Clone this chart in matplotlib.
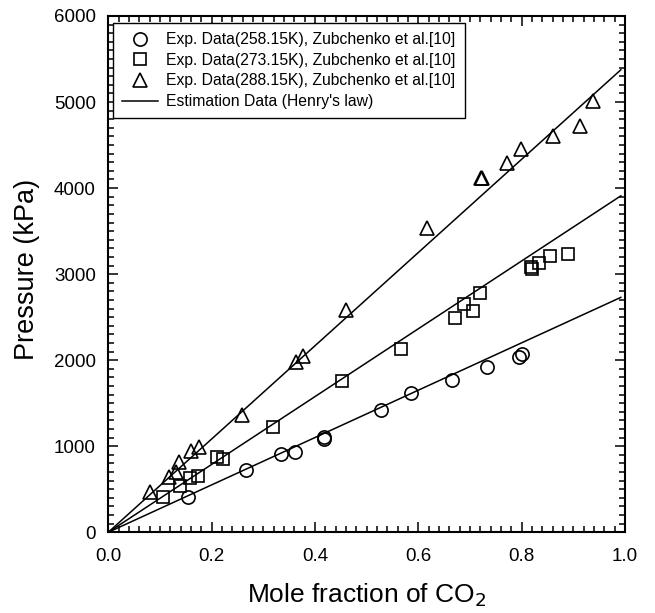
import matplotlib
matplotlib.use("Agg")
import matplotlib.pyplot as plt
from matplotlib.ticker import MultipleLocator
import numpy as np

plt.rcParams['font.family'] = ['Liberation Sans', 'DejaVu Sans']

# Experimental data, 258.15 K (circles)
x_258 = [0.154, 0.266, 0.335, 0.361, 0.418, 0.418, 0.528, 0.586, 0.666, 0.732, 0.795, 0.801]
p_258 = [414, 724, 906, 937, 1111, 1082, 1421, 1623, 1770, 1925, 2041, 2072]

# Experimental data, 273.15 K (squares)
x_273 = [0.105, 0.139, 0.158, 0.173, 0.210, 0.222, 0.319, 0.453, 0.566, 0.671, 0.688,
         0.705, 0.720, 0.818, 0.820, 0.834, 0.854, 0.890]
p_273 = [407, 542, 627, 658, 872, 848, 1227, 1758, 2130, 2494, 2653,
         2575, 2785, 3087, 3060, 3126, 3214, 3234]

# Experimental data, 288.15 K (triangles)
x_288 = [0.081, 0.118, 0.132, 0.137, 0.161, 0.176, 0.258, 0.364, 0.377, 0.460, 0.616,
         0.722, 0.724, 0.771, 0.798, 0.860, 0.912, 0.939]
p_288 = [465, 646, 704, 813, 948, 995, 1363, 1983, 2052, 2583, 3540,
         4114, 4121, 4288, 4451, 4609, 4725, 5016]

# Estimation lines (Henry's law)
x_est = [0.0, 0.992]
p_est_258 = [0, 2730]
p_est_273 = [0, 3910]
p_est_288 = [0, 5375]

labels = ["Exp. Data(258.15K), Zubchenko et al.[10]",
          "Exp. Data(273.15K), Zubchenko et al.[10]",
          "Exp. Data(288.15K), Zubchenko et al.[10]",
          "Estimation Data (Henry's law)"]

fig = plt.figure(figsize=(6.55, 6.13), dpi=100)
ax = fig.add_axes([0.1653, 0.1317, 0.7889, 0.8422])

lw = 1.1
ln, = ax.plot(x_est, p_est_258, color='black', lw=lw, zorder=2)
ax.plot(x_est, p_est_273, color='black', lw=lw, zorder=2)
ax.plot(x_est, p_est_288, color='black', lw=lw, zorder=2)

mk = dict(linestyle='none', markerfacecolor='none', markeredgecolor='black',
          markeredgewidth=1.2, zorder=3)
h1, = ax.plot(x_258, p_258, marker='o', markersize=9.5, **mk)
h2, = ax.plot(x_273, p_273, marker='s', markersize=8.5, **mk)
h3, = ax.plot(x_288, p_288, marker='^', markersize=10, **mk)

ax.set_xlim(0, 1.0)
ax.set_ylim(0, 6000)
ax.xaxis.set_major_locator(MultipleLocator(0.2))
ax.xaxis.set_minor_locator(MultipleLocator(0.02))
ax.yaxis.set_major_locator(MultipleLocator(1000))
ax.yaxis.set_minor_locator(MultipleLocator(100))
ax.xaxis.set_major_formatter(matplotlib.ticker.FormatStrFormatter('%.1f'))

ax.tick_params(which='both', direction='in', top=True, right=True,
               labelsize=13.5, width=1.1)
ax.tick_params(which='major', length=7)
ax.tick_params(axis='x', which='major', pad=11)
ax.tick_params(axis='y', which='major', pad=9)
ax.tick_params(which='minor', length=4)
for s in ax.spines.values():
    s.set_linewidth(1.5)

ax.set_xlabel("Mole fraction of CO$_2$", fontsize=19, labelpad=12)
ax.set_ylabel("Pressure (kPa)", fontsize=19.5, labelpad=10)
ax.yaxis.label.set_y(0.51)

leg = ax.legend([h1, h2, h3, ln], labels, loc='upper left',
                bbox_to_anchor=(0.009, 0.987), fontsize=11.3, numpoints=1,
                handlelength=2.3, handletextpad=0.5, borderpad=0.6,
                labelspacing=0.36, fancybox=False, framealpha=1,
                edgecolor='black', borderaxespad=0)
leg.get_frame().set_linewidth(1.0)

fig.savefig("out.png", dpi=100)
